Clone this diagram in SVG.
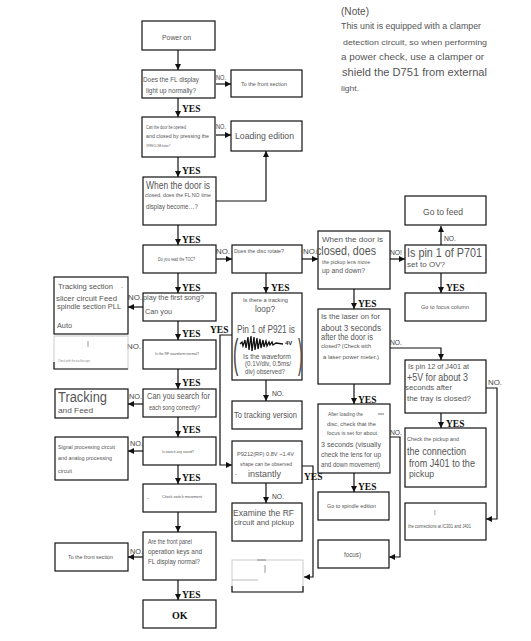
<svg xmlns="http://www.w3.org/2000/svg" width="531" height="641" viewBox="0 0 531 641">
<defs>
<marker id="ah" viewBox="0 0 6 6" refX="6" refY="3" markerWidth="6" markerHeight="6" markerUnits="userSpaceOnUse" orient="auto"><path d="M0,0 L6,3 L0,6 z" fill="#111"/></marker>
</defs>
<style>
.b{fill:#fff;stroke:#111;stroke-width:1.2}
.f{fill:none;stroke:#ccc;stroke-width:1}
.t{font-family:"Liberation Sans",Arial,sans-serif;fill:#555}
.n{font-family:"Liberation Sans",Arial,sans-serif;fill:#444;font-size:6.5px}
.y{font-family:"Liberation Serif","Times New Roman",serif;font-weight:bold;fill:#111;font-size:9.5px}
.c{fill:none;stroke:#111;stroke-width:1.2}
.ca{fill:none;stroke:#111;stroke-width:1.2;marker-end:url(#ah)}
</style>
<rect width="531" height="641" fill="#fff"/>

<g id="note">
<text class="t" x="341" y="15" font-size="10.5" textLength="28" lengthAdjust="spacingAndGlyphs">(Note)</text>
<text class="t" x="341" y="29" font-size="8.5" textLength="140" lengthAdjust="spacingAndGlyphs">This unit is equipped with a clamper</text>
<text class="t" x="343" y="45" font-size="8" textLength="144" lengthAdjust="spacingAndGlyphs">detection circuit, so when performing</text>
<text class="t" x="341" y="60" font-size="9.5" textLength="143" lengthAdjust="spacingAndGlyphs">a power check, use a clamper or</text>
<text class="t" x="342" y="76" font-size="10.5" textLength="145" lengthAdjust="spacingAndGlyphs">shield the D751 from external</text>
<text class="t" x="341" y="91" font-size="8" textLength="18" lengthAdjust="spacingAndGlyphs">light.</text>
</g>

<g id="connectors">
<path class="ca" d="M178,50 V70"/>
<path class="ca" d="M178,98 V117"/>
<path class="ca" d="M178,157 V177"/>
<path class="ca" d="M178,225 V245"/>
<path class="ca" d="M178,273 V293"/>
<path class="ca" d="M178,321 V340"/>
<path class="ca" d="M178,369 V389"/>
<path class="ca" d="M178,417 V437"/>
<path class="ca" d="M178,465 V484"/>
<path class="ca" d="M178,512 V532"/>
<path class="ca" d="M178,580 V600"/>
<path class="ca" d="M216,84 H231"/>
<path class="ca" d="M216,135 H231"/>
<path class="ca" d="M216,201 H266 V151"/>
<path class="ca" d="M216,259 H232"/>
<path class="ca" d="M266,273 V293"/>
<path class="ca" d="M302,259 H318"/>
<path class="ca" d="M390,259 H405"/>
<path class="ca" d="M441,245 V226"/>
<path class="ca" d="M441,273 V293"/>
<path class="ca" d="M354,289 V309"/>
<path class="ca" d="M390,348 H441 V360"/>
<path class="ca" d="M354,384 V404"/>
<path class="ca" d="M441,413 V428"/>
<path class="ca" d="M486,388 H497 V519 H486"/>
<path class="ca" d="M390,437 H400 V557 H389"/>
<path class="ca" d="M354,473 V492"/>
<path class="ca" d="M266,380 V401"/>
<path class="ca" d="M232,335 H220 V465 H232"/>
<path class="ca" d="M302,466 H313 V577 H304"/>
<path class="ca" d="M266,483 V503"/>
<path class="ca" d="M143,307 H128"/>
<path class="ca" d="M143,404 H128"/>
<path class="ca" d="M143,451 H128"/>
<path class="ca" d="M143,557 H128"/>
<text class="y" x="182" y="112">YES</text>
<text class="y" x="182" y="174">YES</text>
<text class="y" x="182" y="243">YES</text>
<text class="y" x="182" y="291">YES</text>
<text class="y" x="182" y="337">YES</text>
<text class="y" x="182" y="386">YES</text>
<text class="y" x="182" y="433">YES</text>
<text class="y" x="182" y="481">YES</text>
<text class="y" x="182" y="598">YES</text>
<text class="y" x="271" y="291">YES</text>
<text class="y" x="210" y="333">YES</text>
<text class="y" x="304" y="480">YES</text>
<text class="y" x="358" y="307">YES</text>
<text class="y" x="358" y="403">YES</text>
<text class="y" x="358" y="490">YES</text>
<text class="y" x="446" y="291">YES</text>
<text class="y" x="446" y="427">YES</text>
<text class="n" x="216" y="80" textLength="10" lengthAdjust="spacingAndGlyphs">NO.</text>
<text class="n" x="216" y="129" textLength="10" lengthAdjust="spacingAndGlyphs">NO.</text>
<text class="n" x="216" y="254" font-size="7.5" textLength="14" lengthAdjust="spacingAndGlyphs">NO.</text>
<text class="n" x="303" y="254" font-size="7.5" textLength="14" lengthAdjust="spacingAndGlyphs">NO.</text>
<text class="n" x="390" y="255" font-size="7.5" textLength="12" lengthAdjust="spacingAndGlyphs">NO!</text>
<text class="n" x="444" y="241" textLength="12" lengthAdjust="spacingAndGlyphs">NO.</text>
<text class="n" x="390" y="345" font-size="5.5" textLength="12" lengthAdjust="spacingAndGlyphs">NO.</text>
<text class="n" x="488" y="385" textLength="14" lengthAdjust="spacingAndGlyphs">NO.</text>
<text class="n" x="390" y="435" textLength="12" lengthAdjust="spacingAndGlyphs">NO.</text>
<text class="n" x="272" y="396" font-size="6" textLength="12" lengthAdjust="spacingAndGlyphs">NO.</text>
<text class="n" x="272" y="499" font-size="6" textLength="12" lengthAdjust="spacingAndGlyphs">NO.</text>
<text class="n" x="128" y="300" font-size="7.5" textLength="14" lengthAdjust="spacingAndGlyphs">NO.</text>
<text class="n" x="127" y="349" font-size="7" textLength="14" lengthAdjust="spacingAndGlyphs">NO.</text>
<text class="n" x="129" y="399" font-size="7" textLength="13" lengthAdjust="spacingAndGlyphs">NO.</text>
<text class="n" x="130" y="446" font-size="7" textLength="13" lengthAdjust="spacingAndGlyphs">NO.</text>
<text class="n" x="130" y="554" font-size="7" textLength="13" lengthAdjust="spacingAndGlyphs">NO.</text>
</g>

<g id="power-on"><rect class="b" x="142" y="21" width="73" height="29"/>
<text class="t" x="162" y="40" font-size="8" textLength="29" lengthAdjust="spacingAndGlyphs">Power on</text></g>

<g id="fl-display"><rect class="b" x="142" y="70" width="73" height="28"/>
<text class="t" x="143" y="81.5" font-size="7" textLength="56" lengthAdjust="spacingAndGlyphs">Does the FL display</text>
<text class="t" x="146" y="92.5" font-size="7" textLength="50" lengthAdjust="spacingAndGlyphs">light up normally?</text></g>

<g id="front-section-1"><rect class="b" x="231" y="70" width="71" height="27"/>
<text class="t" x="241" y="86" font-size="6" textLength="46" lengthAdjust="spacingAndGlyphs">To the front section</text></g>

<g id="door-open"><rect class="b" x="142" y="117" width="73" height="40"/>
<text class="t" x="146" y="128.5" font-size="4.5" textLength="40" lengthAdjust="spacingAndGlyphs">Can the door be opened</text>
<text class="t" x="146" y="138" font-size="6" textLength="63" lengthAdjust="spacingAndGlyphs">and closed by pressing the</text>
<text class="t" x="146" y="147" font-size="3.5" textLength="24" lengthAdjust="spacingAndGlyphs">OPEN/CLOSE button?</text></g>

<g id="loading-edition"><rect class="b" x="231" y="121" width="71" height="30"/>
<text class="t" x="235" y="138.5" font-size="9.5" textLength="59" lengthAdjust="spacingAndGlyphs">Loading edition</text></g>

<g id="door-closed-fl"><rect class="b" x="143" y="177" width="73" height="48"/>
<text class="t" x="146" y="188.5" font-size="10" textLength="64" lengthAdjust="spacingAndGlyphs">When the door is</text>
<text class="t" x="145" y="197" font-size="5.5" textLength="66" lengthAdjust="spacingAndGlyphs">closed, does the FL NO time</text>
<text class="t" x="146" y="208.5" font-size="7" textLength="52" lengthAdjust="spacingAndGlyphs">display become…?</text></g>

<g id="read-toc"><rect class="b" x="143" y="245" width="73" height="28"/>
<text class="t" x="158" y="260.5" font-size="4.5" textLength="37" lengthAdjust="spacingAndGlyphs">Do you read the TOC?</text></g>

<g id="disc-rotate"><rect class="b" x="232" y="245" width="70" height="28"/>
<text class="t" x="234" y="253" font-size="6" textLength="50" lengthAdjust="spacingAndGlyphs">Does the disc rotate?</text></g>

<g id="lens-move"><rect class="b" x="318" y="231" width="72" height="58"/>
<text class="t" x="322" y="242" font-size="8" textLength="61" lengthAdjust="spacingAndGlyphs">When the door is</text>
<text class="t" x="316" y="255" font-size="12.5" textLength="60" lengthAdjust="spacingAndGlyphs">closed, does</text>
<text class="t" x="322" y="263.5" font-size="5.5" textLength="48" lengthAdjust="spacingAndGlyphs">the pickup lens move</text>
<text class="t" x="322" y="273" font-size="8" textLength="43" lengthAdjust="spacingAndGlyphs">up and down?</text></g>

<g id="go-feed"><rect class="b" x="405" y="196" width="81" height="29"/>
<text class="t" x="423" y="215" font-size="8.5" textLength="40" lengthAdjust="spacingAndGlyphs">Go to feed</text></g>

<g id="pin1-p701"><rect class="b" x="405" y="245" width="81" height="28"/>
<text class="t" x="407" y="256.5" font-size="13" textLength="75" lengthAdjust="spacingAndGlyphs">Is pin 1 of P701</text>
<text class="t" x="407" y="267" font-size="8" textLength="38" lengthAdjust="spacingAndGlyphs">set to OV?</text></g>

<g id="focus-column"><rect class="b" x="405" y="293" width="81" height="28"/>
<text class="t" x="421" y="309" font-size="5" textLength="48" lengthAdjust="spacingAndGlyphs">Go to focus column</text></g>

<g id="tracking-section"><rect class="b" x="54" y="277" width="74" height="57"/>
<text class="t" x="58" y="289" font-size="8" textLength="55" lengthAdjust="spacingAndGlyphs">Tracking section</text>
<text class="t" x="121" y="288" font-size="7">.</text>
<text class="t" x="56" y="301" font-size="8" textLength="61" lengthAdjust="spacingAndGlyphs">slicer circuit Feed</text>
<text class="t" x="57" y="309" font-size="8" textLength="64" lengthAdjust="spacingAndGlyphs">spindle section PLL</text>
<text class="t" x="57" y="327.5" font-size="7" textLength="15" lengthAdjust="spacingAndGlyphs">Auto</text></g>

<g id="play-first"><rect class="b" x="143" y="293" width="73" height="28"/>
<text class="t" x="143" y="300" font-size="8" textLength="61" lengthAdjust="spacingAndGlyphs">play the first song?</text>
<text class="t" x="145" y="314" font-size="8" textLength="27" lengthAdjust="spacingAndGlyphs">Can you</text></g>

<g id="tracking-loop"><rect class="b" x="232" y="293" width="70" height="87"/>
<text class="t" x="243" y="302" font-size="6" textLength="45" lengthAdjust="spacingAndGlyphs">Is there a tracking</text>
<text class="t" x="255" y="312" font-size="9" textLength="20" lengthAdjust="spacingAndGlyphs">loop?</text>
<text class="t" x="237" y="333" font-size="10" textLength="58" lengthAdjust="spacingAndGlyphs">Pin 1 of P921 is</text>
<text class="t" font-size="40" transform="translate(233,368) scale(0.4,1)" style="fill:#444">(</text>
<text class="t" font-size="40" transform="translate(298,368) scale(0.35,1)" style="fill:#444">)</text>
<path d="M240,344 L242,342 L243,346 L245,340 L246,348 L248,337 L249,350 L251,336 L252,351 L254,337 L255,350 L257,338 L258,349 L260,339 L261,348 L263,340 L264,347 L266,341 L267,346 L269,342 L270,345 L272,342 L273,345 L276,343 L283,344" fill="none" stroke="#111" stroke-width="1.3"/>
<text x="285" y="345" font-family="Liberation Sans,Arial,sans-serif" font-weight="bold" font-size="6" fill="#222">4V</text>
<text class="t" x="243" y="359" font-size="8" textLength="48" lengthAdjust="spacingAndGlyphs">Is the waveform</text>
<text class="t" x="245" y="365.5" font-size="6.5" textLength="46" lengthAdjust="spacingAndGlyphs">(0.1V/div, 0.5ms/</text>
<text class="t" x="245" y="374" font-size="6.5" textLength="40" lengthAdjust="spacingAndGlyphs">div) observed?</text></g>

<g id="check-scope"><rect class="f" x="54" y="336" width="74" height="33"/>
<path d="M54,362 V369 H128" class="c"/>
<path d="M88,341 V347" stroke="#999" stroke-width="1"/>
<text class="t" x="58" y="362" font-size="3" textLength="32" lengthAdjust="spacingAndGlyphs" style="fill:#888">Check with the oscilloscope</text></g>

<g id="rf-waveform"><rect class="b" x="143" y="340" width="73" height="29"/>
<text class="t" x="155" y="354.5" font-size="4" textLength="44" lengthAdjust="spacingAndGlyphs">Is the RF waveform normal?</text></g>

<g id="laser-on"><rect class="b" x="318" y="309" width="72" height="75"/>
<text class="t" x="321" y="319" font-size="8" textLength="59" lengthAdjust="spacingAndGlyphs">Is the laser on for</text>
<text class="t" x="321" y="331" font-size="8.5" textLength="60" lengthAdjust="spacingAndGlyphs">about 3 seconds</text>
<text class="t" x="321" y="340" font-size="8.5" textLength="52" lengthAdjust="spacingAndGlyphs">after the door is</text>
<text class="t" x="321" y="348" font-size="5.5" textLength="50" lengthAdjust="spacingAndGlyphs">closed? (Check with</text>
<text class="t" x="323" y="359" font-size="5.5" textLength="56" lengthAdjust="spacingAndGlyphs">a laser power meter.)</text></g>

<g id="pin12-j401"><rect class="b" x="405" y="360" width="81" height="53"/>
<text class="t" x="408" y="369" font-size="6.5" textLength="61" lengthAdjust="spacingAndGlyphs">Is pin 12 of J401 at</text>
<text class="t" x="407" y="380.5" font-size="10" textLength="61" lengthAdjust="spacingAndGlyphs">+5V for about 3</text>
<text class="t" x="405" y="390" font-size="8" textLength="47" lengthAdjust="spacingAndGlyphs">seconds after</text>
<text class="t" x="407" y="401" font-size="8" textLength="64" lengthAdjust="spacingAndGlyphs">the tray is closed?</text></g>

<g id="tracking-feed"><rect class="b" x="55" y="389" width="73" height="29"/>
<text class="t" x="58" y="402" font-size="14" textLength="49" lengthAdjust="spacingAndGlyphs">Tracking</text>
<text class="t" x="58" y="413" font-size="8" textLength="35" lengthAdjust="spacingAndGlyphs">and Feed</text></g>

<g id="search-song"><rect class="b" x="143" y="389" width="73" height="28"/>
<text class="t" x="147" y="399" font-size="8.5" textLength="63" lengthAdjust="spacingAndGlyphs">Can you search for</text>
<text class="t" x="149" y="410" font-size="6.5" textLength="51" lengthAdjust="spacingAndGlyphs">each song correctly?</text></g>

<g id="tracking-version"><rect class="b" x="232" y="401" width="70" height="28"/>
<text class="t" x="234" y="418" font-size="8.5" textLength="63" lengthAdjust="spacingAndGlyphs">To tracking version</text></g>

<g id="after-loading"><rect class="b" x="318" y="404" width="72" height="69"/>
<text class="t" x="328" y="416" font-size="5" textLength="35" lengthAdjust="spacingAndGlyphs">After loading the</text>
<path d="M378,414 H384" stroke="#777" stroke-width="1"/>
<text class="t" x="327" y="426" font-size="6" textLength="49" lengthAdjust="spacingAndGlyphs">disc, check that the</text>
<text class="t" x="327" y="435" font-size="5" textLength="50" lengthAdjust="spacingAndGlyphs">focus is set for about</text>
<text class="t" x="321" y="447" font-size="8" textLength="60" lengthAdjust="spacingAndGlyphs">3 seconds (visually</text>
<text class="t" x="321" y="456.5" font-size="6.5" textLength="60" lengthAdjust="spacingAndGlyphs">check the lens for up</text>
<text class="t" x="321" y="467" font-size="6.5" textLength="59" lengthAdjust="spacingAndGlyphs">and down movement)</text></g>

<g id="check-pickup"><rect class="b" x="405" y="428" width="81" height="59"/>
<text class="t" x="407" y="441" font-size="5" textLength="52" lengthAdjust="spacingAndGlyphs">Check the pickup and</text>
<text class="t" x="407" y="454.5" font-size="10" textLength="59" lengthAdjust="spacingAndGlyphs">the connection</text>
<text class="t" x="409" y="466.5" font-size="10" textLength="66" lengthAdjust="spacingAndGlyphs">from J401 to the</text>
<text class="t" x="409" y="477" font-size="8.5" textLength="25" lengthAdjust="spacingAndGlyphs">pickup</text></g>

<g id="signal-processing"><rect class="b" x="55" y="437" width="73" height="43"/>
<text class="t" x="58" y="449" font-size="5.5" textLength="57" lengthAdjust="spacingAndGlyphs">Signal processing circuit</text>
<text class="t" x="58" y="460" font-size="6" textLength="54" lengthAdjust="spacingAndGlyphs">and analog processing</text>
<text class="t" x="58" y="473" font-size="5.5" textLength="14" lengthAdjust="spacingAndGlyphs">circuit</text></g>

<g id="search-sound"><rect class="b" x="143" y="437" width="73" height="28"/>
<text class="t" x="162" y="452.5" font-size="4" textLength="32" lengthAdjust="spacingAndGlyphs">Is search any sound?</text></g>

<g id="p9212-rf"><rect class="b" x="232" y="441" width="70" height="42"/>
<text class="t" x="237" y="456" font-size="6" textLength="57" lengthAdjust="spacingAndGlyphs">P9212(RF) 0.8V ~1.4V</text>
<text class="t" x="240" y="465.5" font-size="4.5" textLength="52" lengthAdjust="spacingAndGlyphs">shape can be observed</text>
<text class="t" x="235" y="476" font-size="6">-</text>
<text class="t" x="248" y="477" font-size="9" textLength="33" lengthAdjust="spacingAndGlyphs">instantly</text></g>

<g id="check-switch"><rect class="b" x="143" y="484" width="73" height="28"/>
<text class="t" x="147" y="500" font-size="5">-</text>
<text class="t" x="162" y="498" font-size="3.5" textLength="40" lengthAdjust="spacingAndGlyphs">Check switch movement</text></g>

<g id="spindle-edition"><rect class="b" x="318" y="492" width="71" height="28"/>
<text class="t" x="327" y="508" font-size="5" textLength="49" lengthAdjust="spacingAndGlyphs">Go to spindle edition</text></g>

<g id="connections-ic301"><rect class="b" x="405" y="503" width="81" height="37"/>
<text class="t" x="434" y="514" font-size="6">|</text>
<text class="t" x="408" y="527.5" font-size="4.5" textLength="63" lengthAdjust="spacingAndGlyphs">the connections at IC301 and J401</text></g>

<g id="examine-rf"><rect class="b" x="232" y="503" width="70" height="38"/>
<text class="t" x="233" y="516" font-size="9.5" textLength="61" lengthAdjust="spacingAndGlyphs">Examine the RF</text>
<text class="t" x="234" y="525" font-size="7.5" textLength="60" lengthAdjust="spacingAndGlyphs">circuit and pickup</text></g>

<g id="front-panel"><rect class="b" x="143" y="532" width="73" height="48"/>
<text class="t" x="148" y="544" font-size="6.5" textLength="44" lengthAdjust="spacingAndGlyphs">Are the front panel</text>
<text class="t" x="148" y="554" font-size="7.5" textLength="54" lengthAdjust="spacingAndGlyphs">operation keys and</text>
<text class="t" x="148" y="564" font-size="7.5" textLength="52" lengthAdjust="spacingAndGlyphs">FL display normal?</text></g>

<g id="front-section-2"><rect class="b" x="55" y="543" width="73" height="28"/>
<text class="t" x="68" y="559" font-size="6" textLength="45" lengthAdjust="spacingAndGlyphs">To the front section</text></g>

<g id="focus"><rect class="b" x="318" y="540" width="71" height="28"/>
<text class="t" x="344" y="557" font-size="6.5" textLength="17" lengthAdjust="spacingAndGlyphs">focus)</text></g>

<g id="blank-box"><rect class="f" x="232" y="560" width="71" height="32"/>
<path d="M232,586 V592 H303 V586" class="c"/>
<path d="M257,560 H266" stroke="#888" stroke-width="1"/>
<path d="M265,565 V573" stroke="#999" stroke-width="1"/>
<path d="M232,580 H258" stroke="#aaa" stroke-width="0.8"/></g>

<g id="ok"><rect class="b" x="143" y="600" width="73" height="28"/>
<text x="172" y="619" font-family="Liberation Serif,Times New Roman,serif" font-weight="bold" font-size="10" fill="#111">OK</text></g>
</svg>
